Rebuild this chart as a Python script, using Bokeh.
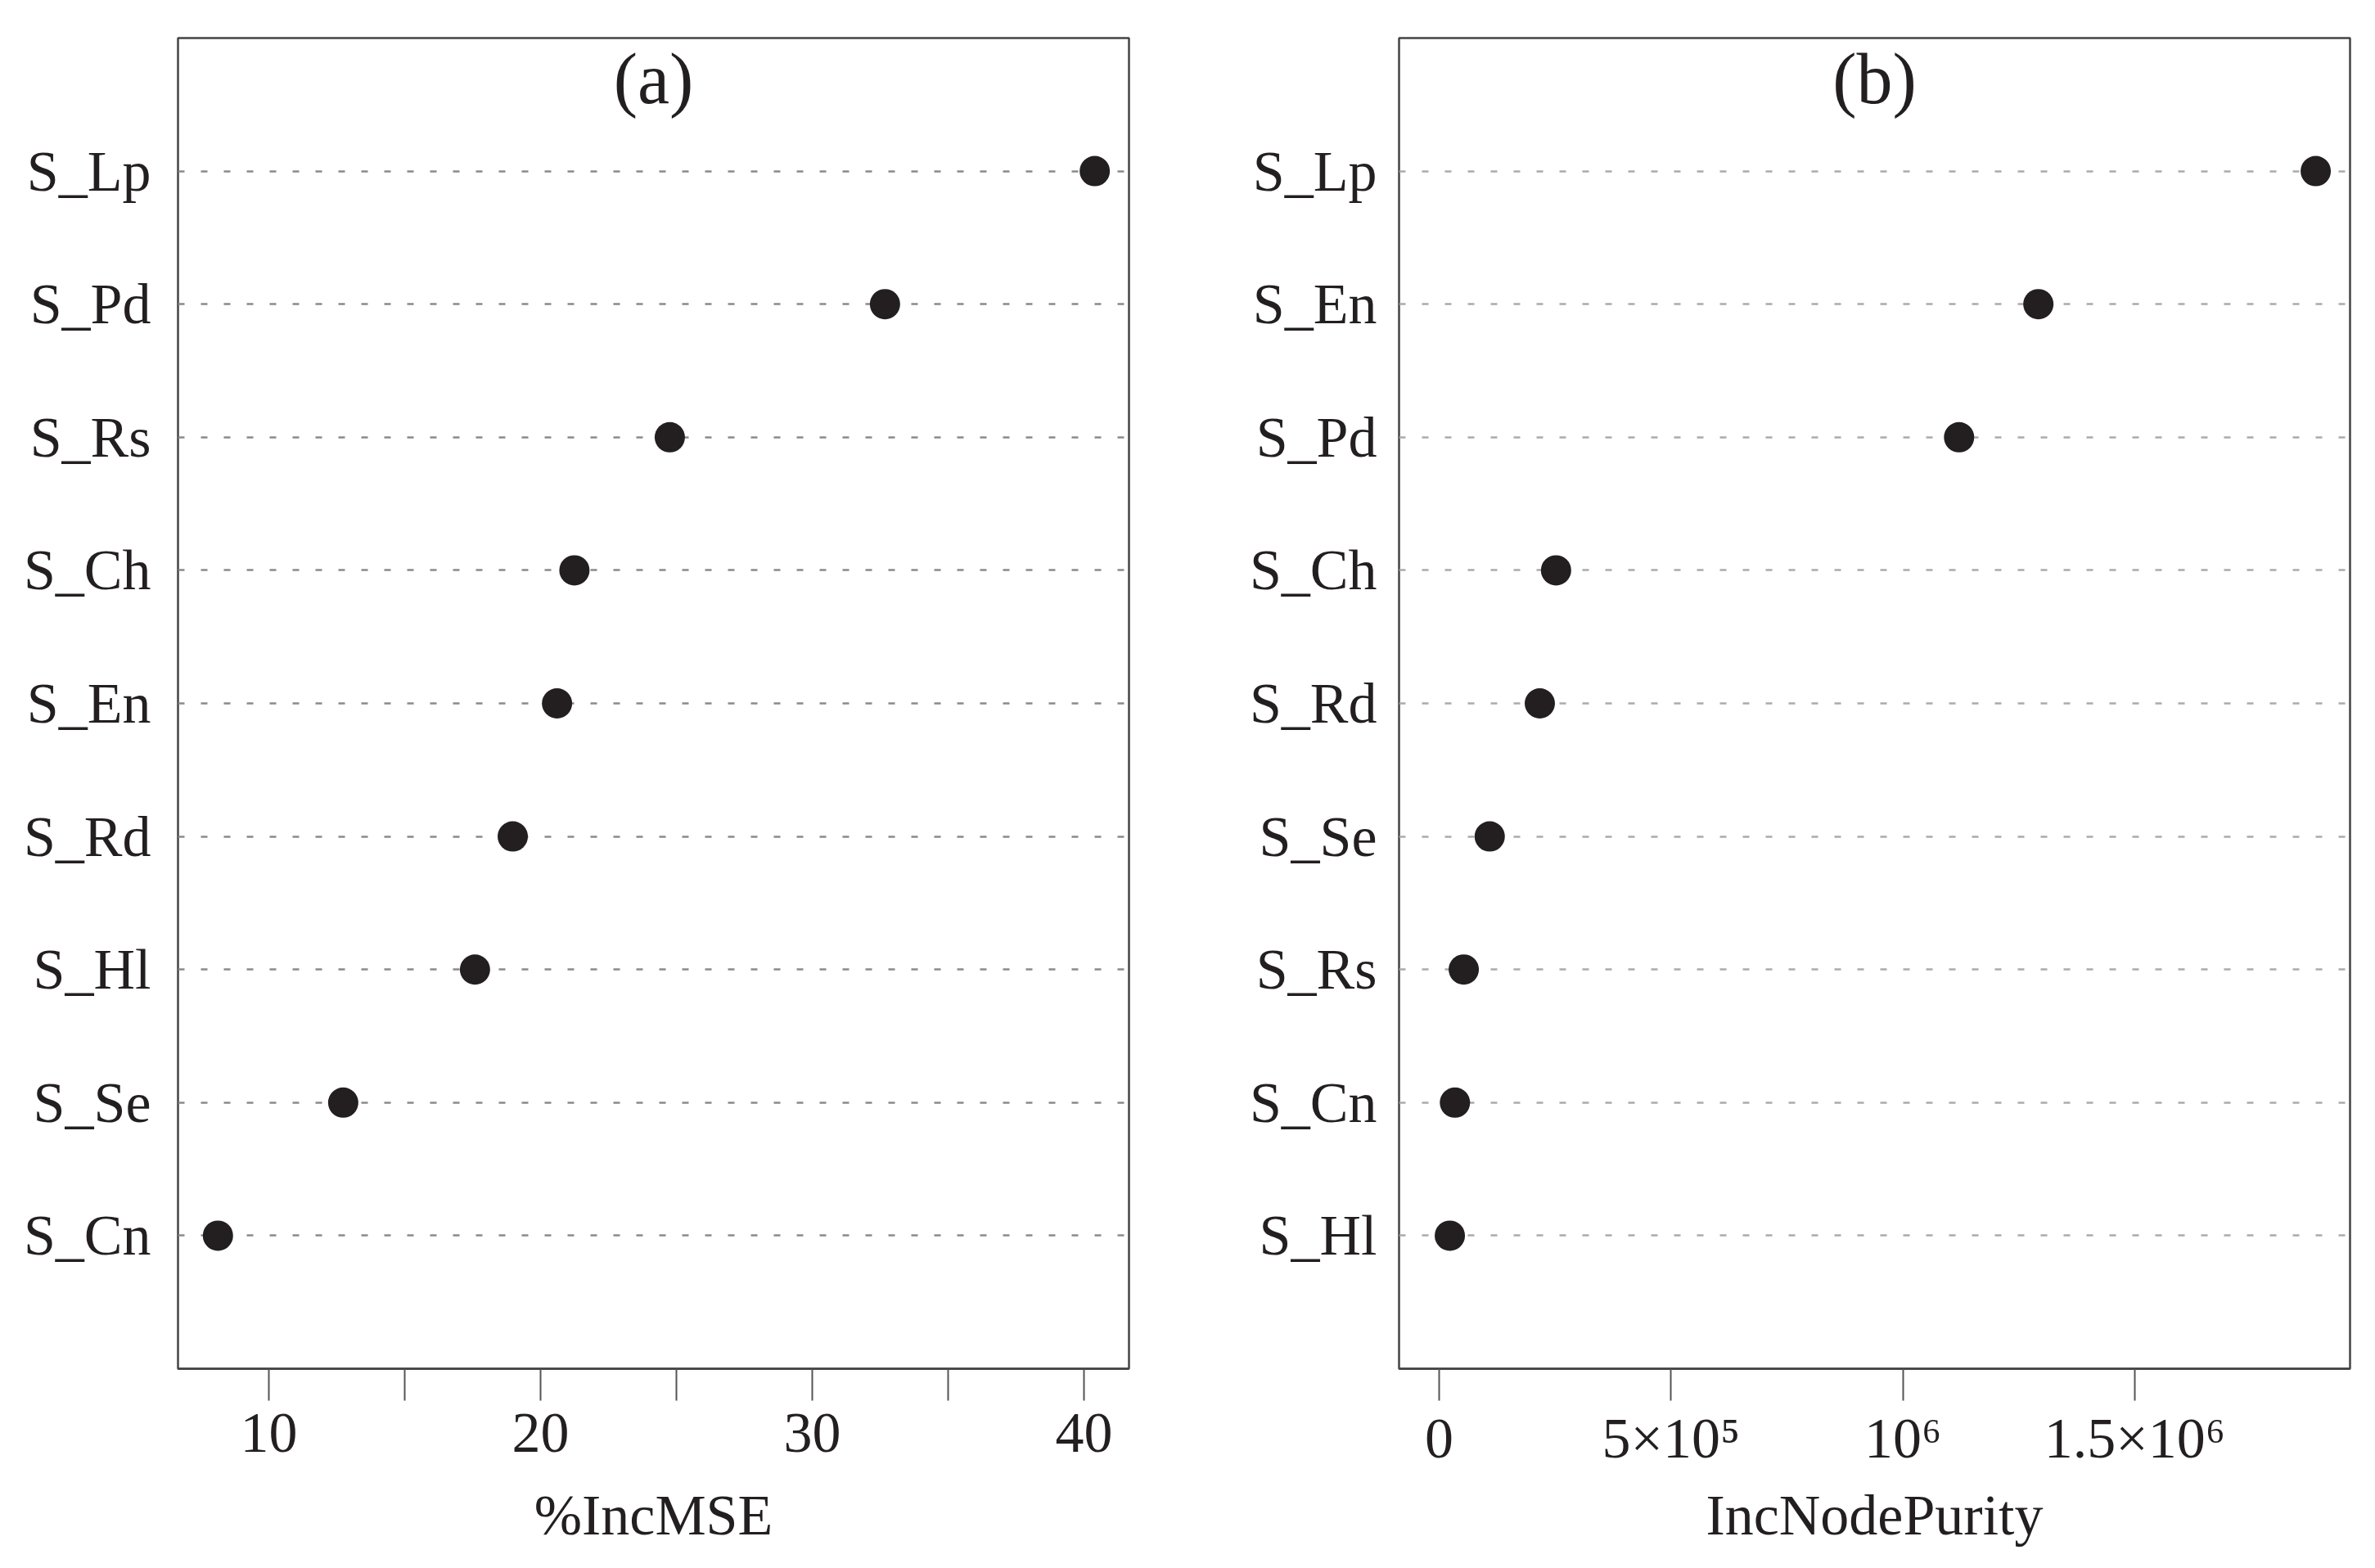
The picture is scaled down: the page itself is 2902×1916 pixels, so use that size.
from bokeh.plotting import figure
from bokeh.models import Range1d, FixedTicker, Label
from bokeh.layouts import row
from bokeh.embed import file_html
from bokeh.resources import INLINE

FONT = "Liberation Serif"
INK = "#231f20"

# ---- data: panel (a) %IncMSE, listed top to bottom ----
a_names = ["S_Lp", "S_Pd", "S_Rs", "S_Ch", "S_En", "S_Rd", "S_Hl", "S_Se", "S_Cn"]
a_values = [40.40, 32.68, 24.76, 21.25, 20.61, 18.98, 17.59, 12.74, 8.13]
a_ticks = [10, 15, 20, 25, 30, 35, 40]
a_tick_labels = ["10", "", "20", "", "30", "", "40"]
a_xrange = (6.66, 41.66)

# ---- data: panel (b) IncNodePurity, listed top to bottom ----
b_names = ["S_Lp", "S_En", "S_Pd", "S_Ch", "S_Rd", "S_Se", "S_Rs", "S_Cn", "S_Hl"]
b_values = [1890000, 1292000, 1121000, 252000, 217000, 109000, 53000, 34000, 23000]
b_ticks = [0, 500000, 1000000, 1500000]
b_tick_labels = ["0", "5×10⁵", "10⁶", "1.5×10⁶"]
b_xrange = (-86500, 1964000)


def panel(names, values, ticks, tick_labels, xr, title, xlabel,
          bl, br, bt, bb, dash_color, ystandoff, tick_standoff, label_standoff):
    n = len(names)
    ys = [n - i for i in range(n)]
    p = figure(width=bl + 1162 + br, height=bt + 1630 + bb,
               x_range=Range1d(*xr), y_range=Range1d(0, n + 1),
               output_backend="svg", toolbar_location=None,
               min_border_left=bl, min_border_right=br,
               min_border_top=bt, min_border_bottom=bb)
    p.xgrid.grid_line_color = None
    p.ygrid.grid_line_color = None
    p.outline_line_color = "#444444"
    p.outline_line_width = 2.5

    p.hspan(y=ys, line_color=dash_color, line_width=2.5, line_dash="8 20")
    p.scatter(x=values, y=ys, size=37, marker="circle",
              fill_color=INK, line_color=None)

    xa = p.xaxis[0]
    xa.ticker = FixedTicker(ticks=ticks)
    xa.major_label_overrides = dict(zip(ticks, tick_labels))
    xa.minor_tick_line_color = None
    xa.major_tick_in = 0
    xa.major_tick_out = 39
    xa.major_tick_line_color = "#555555"
    xa.major_tick_line_width = 2
    xa.axis_line_color = "#444444"
    xa.axis_line_width = 2.5
    xa.major_label_text_font = FONT
    xa.major_label_text_font_size = "70px"
    xa.major_label_text_color = INK
    xa.major_label_standoff = tick_standoff
    xa.axis_label = xlabel
    xa.axis_label_text_font = FONT
    xa.axis_label_text_font_size = "70px"
    xa.axis_label_text_font_style = "normal"
    xa.axis_label_text_color = INK
    xa.axis_label_standoff = label_standoff

    ya = p.yaxis[0]
    ya.ticker = FixedTicker(ticks=ys)
    ya.major_label_overrides = dict(zip(ys, names))
    ya.major_tick_line_color = None
    ya.minor_tick_line_color = None
    ya.axis_line_color = None
    ya.major_label_text_font = FONT
    ya.major_label_text_font_size = "70px"
    ya.major_label_text_color = INK
    ya.major_label_standoff = ystandoff

    p.add_layout(Label(x=(xr[0] + xr[1]) / 2, y=n + 1 - 0.31, text=title,
                       text_align="center", text_baseline="middle",
                       text_font=FONT, text_font_size="88px", text_color=INK))
    return p


pa = panel(a_names, a_values, a_ticks, a_tick_labels, a_xrange, "(a)", "%IncMSE",
           217, 71, 46, 230, "#8a8a8a", 27, 16, 36)
pb = panel(b_names, b_values, b_ticks, b_tick_labels, b_xrange, "(b)", "IncNodePurity",
           259, 15, 42, 234, "#ababab", 21, 7, 14)

layout = row(pa, pb)
open("out.html", "w").write(file_html(layout, INLINE))
